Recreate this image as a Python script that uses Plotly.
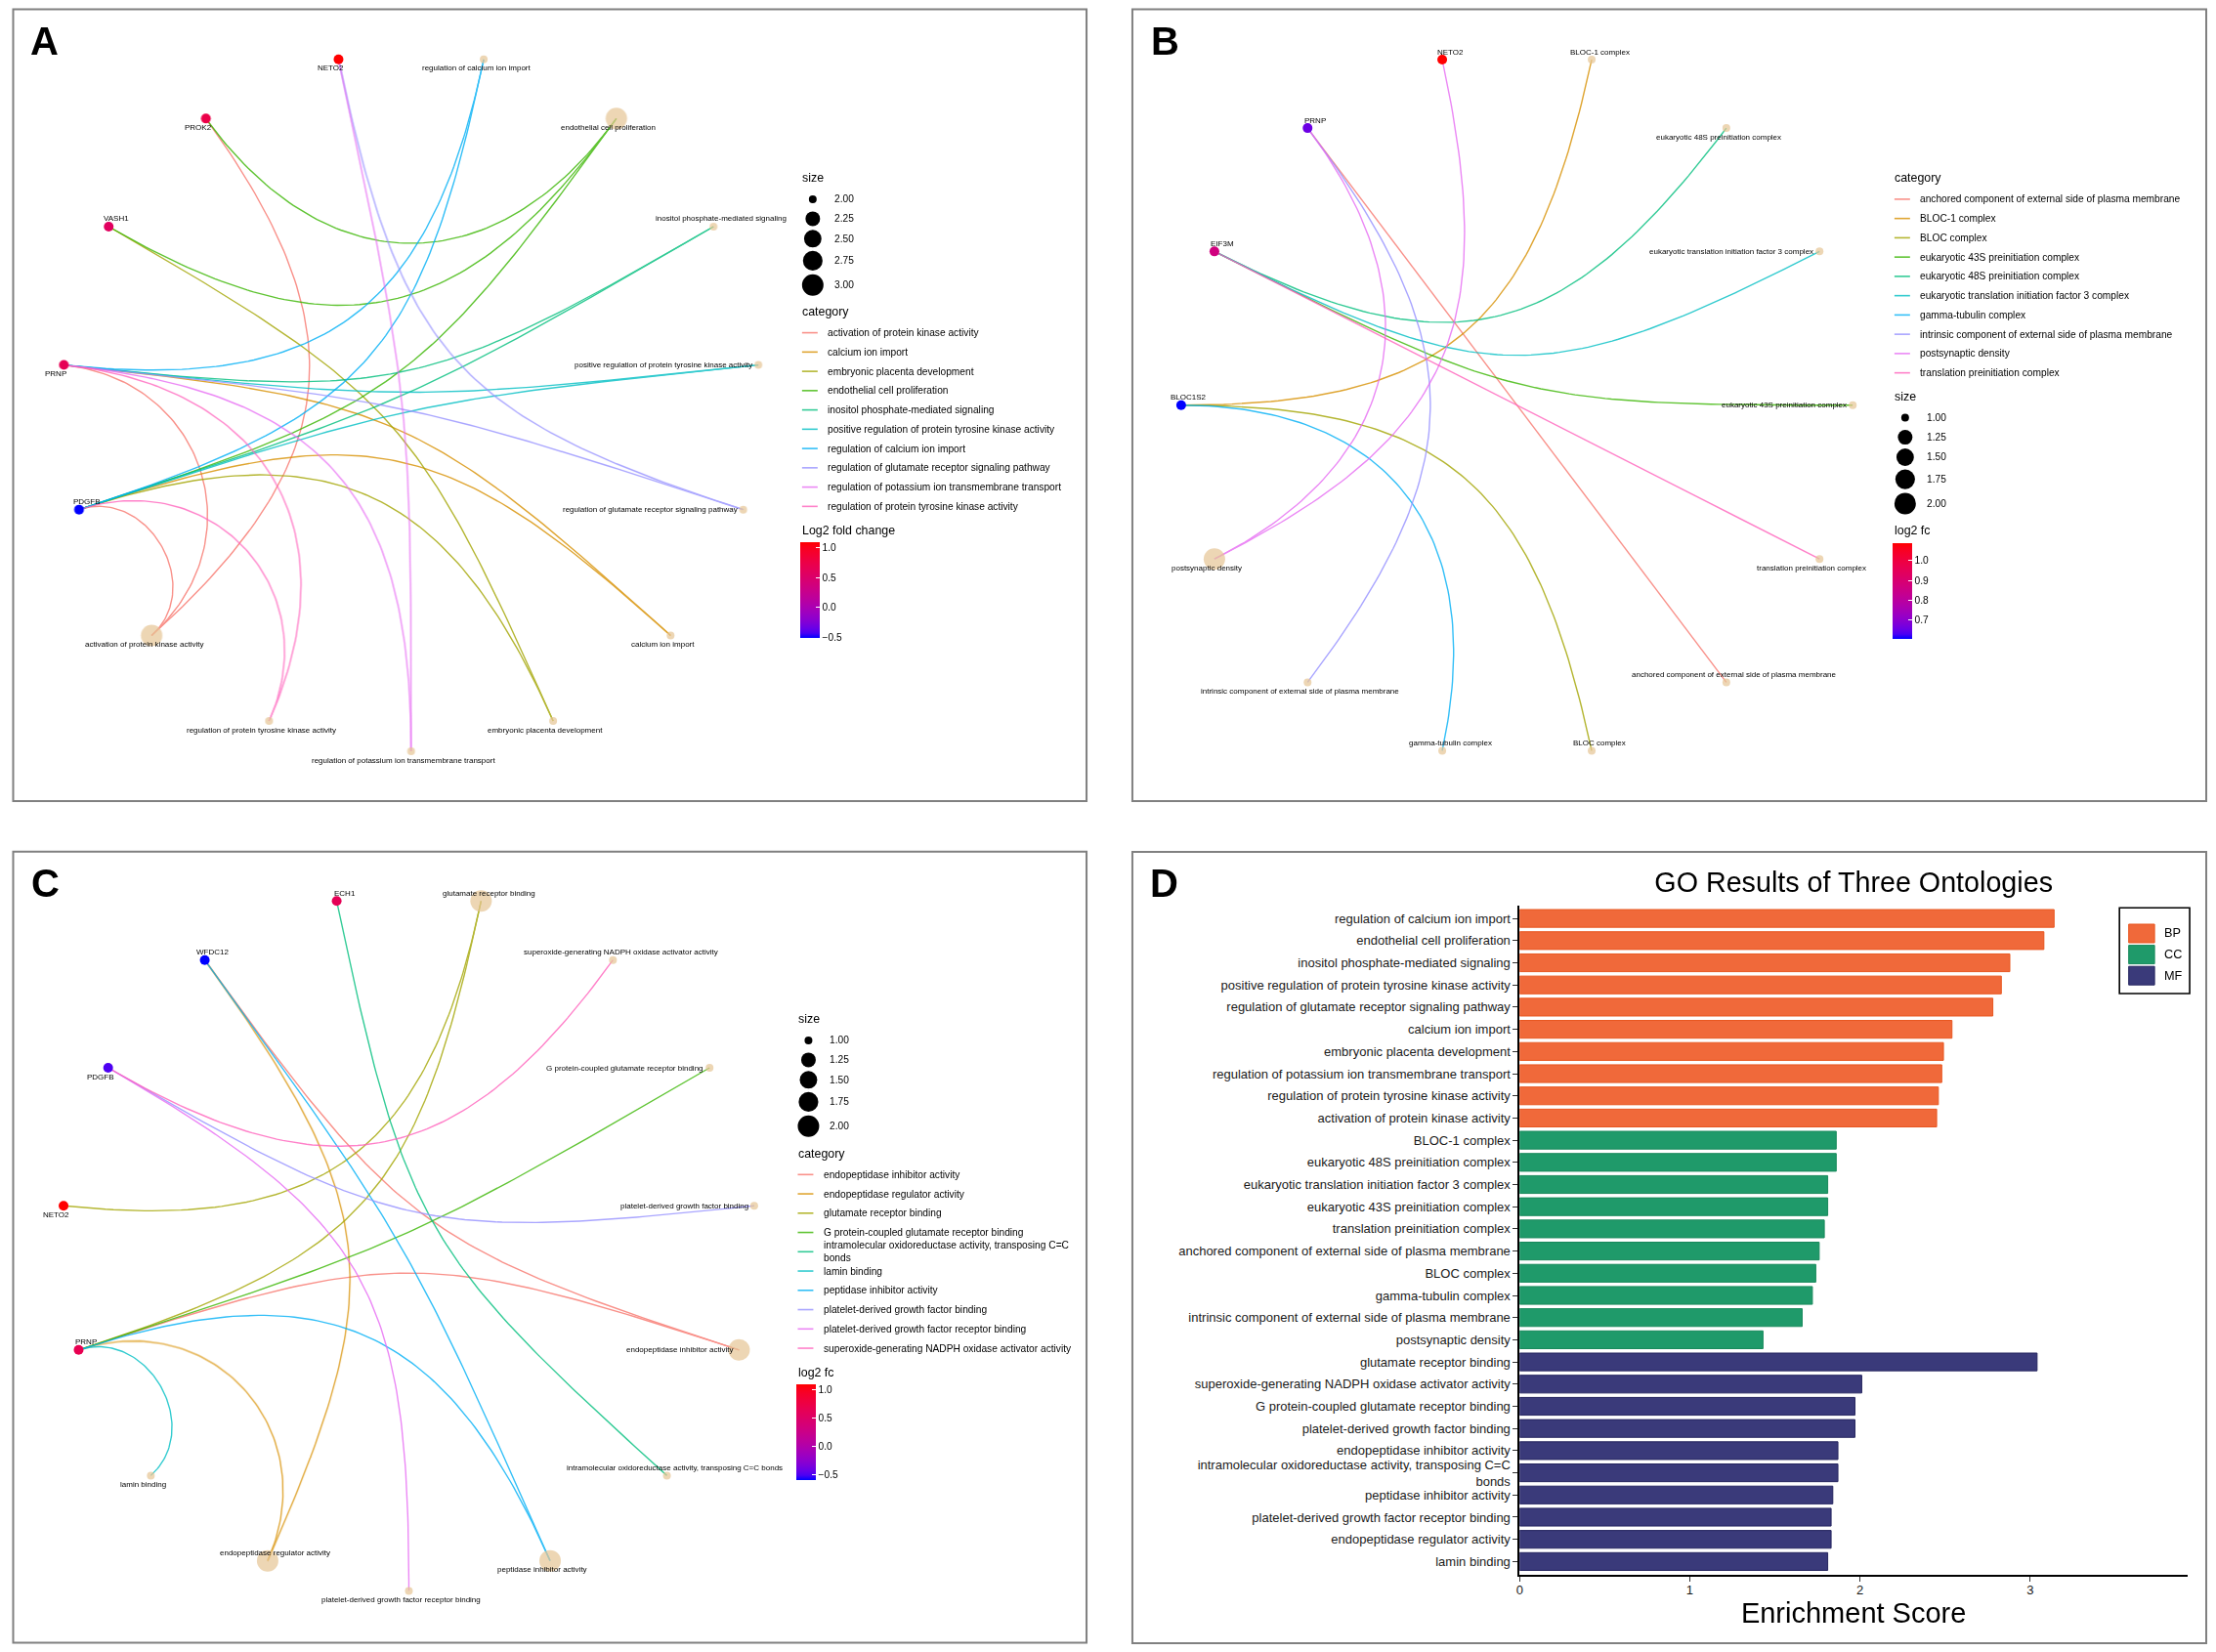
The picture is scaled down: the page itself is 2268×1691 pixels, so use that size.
import re
import textwrap
import numpy as np
import plotly.graph_objects as go

W, H = 2268, 1691
FONT = "Liberation Sans, Arial, Helvetica, sans-serif"

# ---------------- data ----------------
bp_terms = ["regulation of calcium ion import", "endothelial cell proliferation",
            "inositol phosphate-mediated signaling",
            "positive regulation of protein tyrosine kinase activity",
            "regulation of glutamate receptor signaling pathway", "calcium ion import",
            "embryonic placenta development",
            "regulation of potassium ion transmembrane transport",
            "regulation of protein tyrosine kinase activity",
            "activation of protein kinase activity"]
bp_scores = [3.14, 3.08, 2.88, 2.83, 2.78, 2.54, 2.49, 2.48, 2.46, 2.45]

cc_terms = ["BLOC-1 complex", "eukaryotic 48S preinitiation complex",
            "eukaryotic translation initiation factor 3 complex",
            "eukaryotic 43S preinitiation complex", "translation preinitiation complex",
            "anchored component of external side of plasma membrane", "BLOC complex",
            "gamma-tubulin complex",
            "intrinsic component of external side of plasma membrane",
            "postsynaptic density"]
cc_scores = [1.86, 1.86, 1.81, 1.81, 1.79, 1.76, 1.74, 1.72, 1.66, 1.43]

mf_terms = ["glutamate receptor binding",
            "superoxide-generating NADPH oxidase activator activity",
            "G protein-coupled glutamate receptor binding",
            "platelet-derived growth factor binding", "endopeptidase inhibitor activity",
            "intramolecular oxidoreductase activity, transposing C=C bonds",
            "peptidase inhibitor activity",
            "platelet-derived growth factor receptor binding",
            "endopeptidase regulator activity", "lamin binding"]
mf_scores = [3.04, 2.01, 1.97, 1.97, 1.87, 1.87, 1.84, 1.83, 1.83, 1.81]

bp_genes = {
    "regulation of calcium ion import": ["PRNP", "PDGFB"],
    "endothelial cell proliferation": ["PROK2", "VASH1", "PDGFB"],
    "inositol phosphate-mediated signaling": ["PRNP", "PDGFB"],
    "positive regulation of protein tyrosine kinase activity": ["PRNP", "PDGFB"],
    "regulation of glutamate receptor signaling pathway": ["NETO2", "PRNP"],
    "calcium ion import": ["PRNP", "PDGFB"],
    "embryonic placenta development": ["VASH1", "PDGFB"],
    "regulation of potassium ion transmembrane transport": ["NETO2", "PRNP"],
    "regulation of protein tyrosine kinase activity": ["PRNP", "PDGFB"],
    "activation of protein kinase activity": ["PROK2", "PRNP", "PDGFB"],
}
bp_gene_order = ["PDGFB", "PRNP", "VASH1", "PROK2", "NETO2"]

cc_genes = {
    "BLOC-1 complex": ["BLOC1S2"],
    "eukaryotic 48S preinitiation complex": ["EIF3M"],
    "eukaryotic translation initiation factor 3 complex": ["EIF3M"],
    "eukaryotic 43S preinitiation complex": ["EIF3M"],
    "translation preinitiation complex": ["EIF3M"],
    "anchored component of external side of plasma membrane": ["PRNP"],
    "BLOC complex": ["BLOC1S2"],
    "gamma-tubulin complex": ["BLOC1S2"],
    "intrinsic component of external side of plasma membrane": ["PRNP"],
    "postsynaptic density": ["PRNP", "NETO2"],
}
cc_gene_order = ["BLOC1S2", "EIF3M", "PRNP", "NETO2"]

mf_genes = {
    "glutamate receptor binding": ["NETO2", "PRNP"],
    "superoxide-generating NADPH oxidase activator activity": ["PDGFB"],
    "G protein-coupled glutamate receptor binding": ["PRNP"],
    "platelet-derived growth factor binding": ["PDGFB"],
    "endopeptidase inhibitor activity": ["WFDC12", "PRNP"],
    "intramolecular oxidoreductase activity, transposing C=C bonds": ["ECH1"],
    "peptidase inhibitor activity": ["WFDC12", "PRNP"],
    "platelet-derived growth factor receptor binding": ["PDGFB"],
    "endopeptidase regulator activity": ["WFDC12", "PRNP"],
    "lamin binding": ["PRNP"],
}
mf_gene_order = ["PRNP", "NETO2", "PDGFB", "WFDC12", "ECH1"]

log2fc = {"NETO2": 1.09, "PROK2": 0.74, "PRNP": 0.66, "VASH1": 0.58, "PDGFB": -0.51,
          "EIF3M": 0.87, "BLOC1S2": 0.607, "ECH1": 0.62, "WFDC12": -0.60}

cbar_ticks_a = [-0.5, 0.0, 0.5, 1.0]
cbar_ticks_b = [0.7, 0.8, 0.9, 1.0]
cbar_ticks_c = [-0.5, 0.0, 0.5, 1.0]

# ---------------- styles ----------------
PALETTE = ["#F8766D", "#D89000", "#A3A500", "#39B600", "#00BF7D",
           "#00BFC4", "#00B0F6", "#9590FF", "#E76BF3", "#FF62BC"]
CAT_NODE = "#E5C494"
ONTO_FILL = {"BP": "#F0693A", "CC": "#1F9A6A", "MF": "#3A3A7A"}
ONTO_LINE = {"BP": "#E8561F", "CC": "#17895B", "MF": "#25255F"}
LEG_TITLE = 12.4
LEG_TEXT = 10.2
NODE_TEXT = 8
AX_TEXT = 13


def px(x):
    return x / W


def py(y):
    return 1 - y / H


# Lab-space blue -> red gradient (like ggplot2 scale_colour_gradient)
def _lab(rgb):
    c = np.array(rgb, float) / 255
    c = np.where(c <= 0.04045, c / 12.92, ((c + 0.055) / 1.055) ** 2.4)
    M = np.array([[0.4124, 0.3576, 0.1805], [0.2126, 0.7152, 0.0722], [0.0193, 0.1192, 0.9505]])
    xyz = M @ c / np.array([0.95047, 1.0, 1.08883])
    f = np.where(xyz > 216 / 24389, np.cbrt(xyz), (24389 / 27 * xyz + 16) / 116)
    return np.array([116 * f[1] - 16, 500 * (f[0] - f[1]), 200 * (f[1] - f[2])])


def _rgb(lab):
    L, a, b = lab
    fy = (L + 16) / 116
    f = np.array([fy + a / 500, fy, fy - b / 200])
    xyz = np.where(f ** 3 > 216 / 24389, f ** 3, (116 * f - 16) / (24389 / 27))
    xyz = xyz * np.array([0.95047, 1.0, 1.08883])
    Minv = np.array([[3.2406, -1.5372, -0.4986], [-0.9689, 1.8758, 0.0415], [0.0557, -0.2040, 1.0570]])
    c = np.clip(Minv @ xyz, 0, 1)
    c = np.where(c <= 0.0031308, 12.92 * c, 1.055 * c ** (1 / 2.4) - 0.055)
    r, g, bb = np.round(c * 255).astype(int)
    return "rgb(%d,%d,%d)" % (r, g, bb)


_lo, _hi = _lab((0, 0, 255)), _lab((255, 0, 0))
GRAD = [[float(t), _rgb(_lo + (_hi - _lo) * t)] for t in np.linspace(0, 1, 21)]

PANELS = [
    dict(key="A", terms=bp_terms, genes=bp_genes, gene_order=bp_gene_order,
         cbar_title="Log2 fold change", cbar_ticks=cbar_ticks_a,
         box=(9.5, 9.5, 1110, 820), label_xy=(42, 42),
         circle=(417.5, 411, 358, 358), caxis="coloraxis",
         legend=dict(x=816.7, order=["size", "category", "cbar"], ys=[182.3, 319, 542.7]),
         label_pos={"inositol phosphate-mediated signaling": "above",
                    "positive regulation of protein tyrosine kinase activity": "left",
                    "regulation of glutamate receptor signaling pathway": "left",
                    "PDGFB": "above", "VASH1": "above"}),
    dict(key="B", terms=cc_terms, genes=cc_genes, gene_order=cc_gene_order,
         cbar_title="log2 fc", cbar_ticks=cbar_ticks_b,
         box=(1157, 9.5, 2258, 820), label_xy=(1190.5, 42),
         circle=(1551.3, 414.75, 344.3, 362.8), caxis="coloraxis2",
         legend=dict(x=1936.7, order=["category", "size", "cbar"], ys=[182.3, 406, 543.3]),
         label_pos={"NETO2": "above", "BLOC-1 complex": "above",
                    "eukaryotic translation initiation factor 3 complex": "left",
                    "eukaryotic 43S preinitiation complex": "left",
                    "anchored component of external side of plasma membrane": "above",
                    "BLOC complex": "above", "gamma-tubulin complex": "above",
                    "BLOC1S2": "above", "EIF3M": "above", "PRNP": "above"}),
    dict(key="C", terms=mf_terms, genes=mf_genes, gene_order=mf_gene_order,
         cbar_title="log2 fc", cbar_ticks=cbar_ticks_c,
         box=(9.5, 871.7, 1110, 1681.5), label_xy=(43, 904),
         circle=(415.2, 1271.5, 356, 357), caxis="coloraxis3",
         legend=dict(x=812.3, order=["size", "category", "cbar"], ys=[1043.3, 1180.7, 1405]),
         label_pos={"ECH1": "above", "glutamate receptor binding": "above",
                    "superoxide-generating NADPH oxidase activator activity": "above",
                    "G protein-coupled glutamate receptor binding": "left",
                    "platelet-derived growth factor binding": "left",
                    "endopeptidase inhibitor activity": "left",
                    "intramolecular oxidoreductase activity, transposing C=C bonds": "above",
                    "endopeptidase regulator activity": "above",
                    "PRNP": "above", "WFDC12": "above"}),
]

fig = go.Figure()
shapes, annotations, lay = [], [], {}


def text_ann(x, y, text, size, anchor="left", **kw):
    annotations.append(dict(x=px(x), y=py(y), xref="paper", yref="paper", text=text,
                            showarrow=False, xanchor=anchor, yanchor="middle", align="left",
                            font=dict(size=size, family=FONT, color="black"), **kw))


def size_of(s, smin, smax):
    return 8 + 14 * np.sqrt((s - smin) / (smax - smin))


tt = np.linspace(0, 1, 90)[:, None]

for k, P in enumerate(PANELS):
    suf = "" if k == 0 else str(k + 1)
    xa, ya = "x" + suf, "y" + suf
    cx, cy, rx, ry = P["circle"]
    lay["xaxis" + suf] = dict(domain=[px(cx - rx), px(cx + rx)], range=[-1, 1], visible=False,
                              anchor=ya, fixedrange=True)
    lay["yaxis" + suf] = dict(domain=[py(cy + ry), py(cy - ry)], range=[-1, 1], visible=False,
                              anchor=xa, fixedrange=True)
    terms, genes = P["terms"], P["gene_order"]
    nodes = terms + genes
    n = len(nodes)
    ang = np.pi / 2 - np.pi / n - 2 * np.pi * np.arange(n) / n
    pos = {nm: np.array([np.cos(a), np.sin(a)]) for nm, a in zip(nodes, ang)}
    legend_order = sorted(terms, key=lambda s: re.sub(r"[^a-z0-9]", "", s.lower()))
    col = {t: PALETTE[i] for i, t in enumerate(legend_order)}

    # edges (ggraph circular arc: cubic bezier pulled toward centre)
    for t in legend_order:
        xs, ys = [], []
        for g in P["genes"][t]:
            p0, p3 = pos[g], pos[t]
            d = np.linalg.norm(p3 - p0) / 2
            p1, p2 = p0 * (1 - d), p3 * (1 - d)
            B = (1 - tt) ** 3 * p0 + 3 * (1 - tt) ** 2 * tt * p1 + 3 * (1 - tt) * tt ** 2 * p2 + tt ** 3 * p3
            xs += list(B[:, 0]) + [None]
            ys += list(B[:, 1]) + [None]
        fig.add_trace(go.Scatter(x=xs, y=ys, mode="lines", line=dict(color=col[t], width=1.4),
                                 opacity=0.8, xaxis=xa, yaxis=ya, hoverinfo="skip", showlegend=False))

    # category nodes
    sizes = np.array([len(P["genes"][t]) for t in terms], float)
    smin, smax = sizes.min(), sizes.max()
    fig.add_trace(go.Scatter(x=[pos[t][0] for t in terms], y=[pos[t][1] for t in terms],
                             mode="markers", marker=dict(color=CAT_NODE, size=size_of(sizes, smin, smax),
                                                         line=dict(width=0)),
                             cliponaxis=False, xaxis=xa, yaxis=ya, hovertext=terms, showlegend=False))
    # gene nodes
    vals = [log2fc[g] for g in genes]
    fig.add_trace(go.Scatter(x=[pos[g][0] for g in genes], y=[pos[g][1] for g in genes],
                             mode="markers", marker=dict(color=vals, coloraxis=P["caxis"], size=10,
                                                         line=dict(width=0)),
                             cliponaxis=False, xaxis=xa, yaxis=ya, hovertext=genes, showlegend=False))
    # node labels
    for nm in nodes:
        place = P["label_pos"].get(nm, "below")
        if place == "below":
            kw = dict(xanchor="center", xshift=-8, yshift=-9)
        elif place == "above":
            kw = dict(xanchor="center", xshift=8, yshift=8)
        else:
            kw = dict(xanchor="right", xshift=-4, yshift=0)
        annotations.append(dict(x=pos[nm][0], y=pos[nm][1], xref=xa, yref=ya, text=nm,
                                showarrow=False, yanchor="middle",
                                font=dict(size=NODE_TEXT, family=FONT, color="black"), **kw))

    # legends
    L = P["legend"]
    x0 = L["x"]
    for part, yt in zip(L["order"], L["ys"]):
        if part == "size":
            text_ann(x0, yt, "size", LEG_TITLE)
            offs = [21.6, 41.6, 62, 84.6, 109.4]
            for b, o in zip(np.linspace(smin, smax, 5), offs):
                d = size_of(b, smin, smax)
                shapes.append(dict(type="circle", xref="paper", yref="paper",
                                   x0=px(x0 + 12.6 - d / 2), x1=px(x0 + 12.6 + d / 2),
                                   y0=py(yt + o + d / 2), y1=py(yt + o - d / 2),
                                   fillcolor="black", line=dict(width=0)))
                text_ann(x0 + 32.3, yt + o, "%.2f" % b, LEG_TEXT)
        elif part == "category":
            text_ann(x0, yt, "category", LEG_TITLE)
            for i, t in enumerate(legend_order):
                yk = yt + 21.6 + 19.75 * i
                shapes.append(dict(type="line", xref="paper", yref="paper",
                                   x0=px(x0 + 1.6), x1=px(x0 + 17.6), y0=py(yk), y1=py(yk),
                                   line=dict(color=col[t], width=1.6), opacity=0.8))
                text_ann(x0 + 26, yk, "<br>".join(textwrap.wrap(t, 55)), LEG_TEXT)
        else:
            text_ann(x0, yt, P["cbar_title"], LEG_TITLE)
            vmin, vmax = min(vals), max(vals)
            lay[P["caxis"]] = dict(
                cmin=vmin, cmax=vmax, colorscale=GRAD,
                colorbar=dict(x=px(x0), xanchor="left", y=py(yt + 12.3), yanchor="top",
                              len=98.3, lenmode="pixels", thickness=20, thicknessmode="pixels",
                              xpad=0, ypad=0, outlinewidth=0, tickmode="array",
                              tickvals=P["cbar_ticks"], tickformat=".1f", ticks="inside",
                              ticklen=4, tickcolor="white", tickwidth=1,
                              tickfont=dict(size=LEG_TEXT, family=FONT, color="black")))

    bx0, by0, bx1, by1 = P["box"]
    shapes.append(dict(type="rect", xref="paper", yref="paper", x0=px(bx0), x1=px(bx1),
                       y0=py(by1), y1=py(by0), line=dict(color="#808080", width=2)))
    annotations.append(dict(x=px(P["label_xy"][0]), y=py(P["label_xy"][1]), xref="paper",
                            yref="paper", text="<b>%s</b>" % P["key"], showarrow=False,
                            xanchor="center", yanchor="middle",
                            font=dict(size=40, family=FONT, color="black")))

# ---------------- panel D ----------------
all_terms = bp_terms + cc_terms + mf_terms
all_scores = bp_scores + cc_scores + mf_scores
for onto, terms, scores in (("BP", bp_terms, bp_scores), ("CC", cc_terms, cc_scores),
                            ("MF", mf_terms, mf_scores)):
    fig.add_trace(go.Bar(x=scores, y=terms, orientation="h", width=0.8, name=onto,
                         marker=dict(color=ONTO_FILL[onto], line=dict(color=ONTO_LINE[onto], width=1)),
                         xaxis="x4", yaxis="y4", showlegend=False))

lay["xaxis4"] = dict(domain=[px(1554), px(2239)], range=[0, max(all_scores) * 1.25], anchor="y4",
                     showline=True, linecolor="black", linewidth=1.6, ticks="outside", ticklen=5,
                     tickcolor="#333333", tickwidth=1, tickvals=[0, 1, 2, 3], showgrid=False,
                     zeroline=False, fixedrange=True, ticklabelstandoff=-2,
                     tickfont=dict(size=AX_TEXT, family=FONT, color="#1a1a1a"),
                     title=dict(text="Enrichment Score", standoff=0,
                                font=dict(size=29, family=FONT, color="black")))
lay["yaxis4"] = dict(domain=[py(1612), py(926.5)], anchor="x4", type="category",
                     categoryorder="array", categoryarray=all_terms,
                     range=[len(all_terms) - 0.4, -0.6], showline=True, linecolor="black",
                     linewidth=1.6, ticks="outside", ticklen=5, tickcolor="#333333", tickwidth=1,
                     tickmode="array", tickvals=all_terms,
                     ticktext=["<br>".join(textwrap.wrap(t, 55)) for t in all_terms],
                     showgrid=False, zeroline=False, fixedrange=True,
                     tickfont=dict(size=AX_TEXT, family=FONT, color="#1a1a1a"))

# D legend
shapes.append(dict(type="rect", xref="paper", yref="paper", x0=px(2169), x1=px(2241),
                   y0=py(1017), y1=py(929.3), line=dict(color="black", width=1.6)))
for i, onto in enumerate(["BP", "CC", "MF"]):
    yc = 955.5 + 21.6 * i
    shapes.append(dict(type="rect", xref="paper", yref="paper", x0=px(2178.5), x1=px(2205),
                       y0=py(yc + 9.5), y1=py(yc - 9.5), fillcolor=ONTO_FILL[onto],
                       line=dict(color=ONTO_LINE[onto], width=1)))
    text_ann(2213, yc, onto, 12.7)

shapes.append(dict(type="rect", xref="paper", yref="paper", x0=px(1157), x1=px(2258),
                   y0=py(1682), y1=py(872), line=dict(color="#808080", width=2)))
annotations.append(dict(x=px(1190), y=py(904), xref="paper", yref="paper", text="<b>D</b>",
                        showarrow=False, xanchor="center", yanchor="middle",
                        font=dict(size=40, family=FONT, color="black")))

fig.update_layout(
    width=W, height=H, margin=dict(l=0, r=0, t=0, b=0, pad=0),
    paper_bgcolor="white", plot_bgcolor="rgba(0,0,0,0)", showlegend=False,
    font=dict(family=FONT, color="black"),
    title=dict(text="GO Results of Three Ontologies", x=px(1896.5), y=py(902.5),
               xanchor="center", yanchor="middle", xref="paper", yref="paper",
               font=dict(size=28.7, family=FONT, color="black")),
    shapes=shapes, annotations=annotations, **lay)

fig.write_html("out.html", config={"displayModeBar": False},
               post_script="document.body.style.margin='0';document.body.style.overflow='hidden';")
